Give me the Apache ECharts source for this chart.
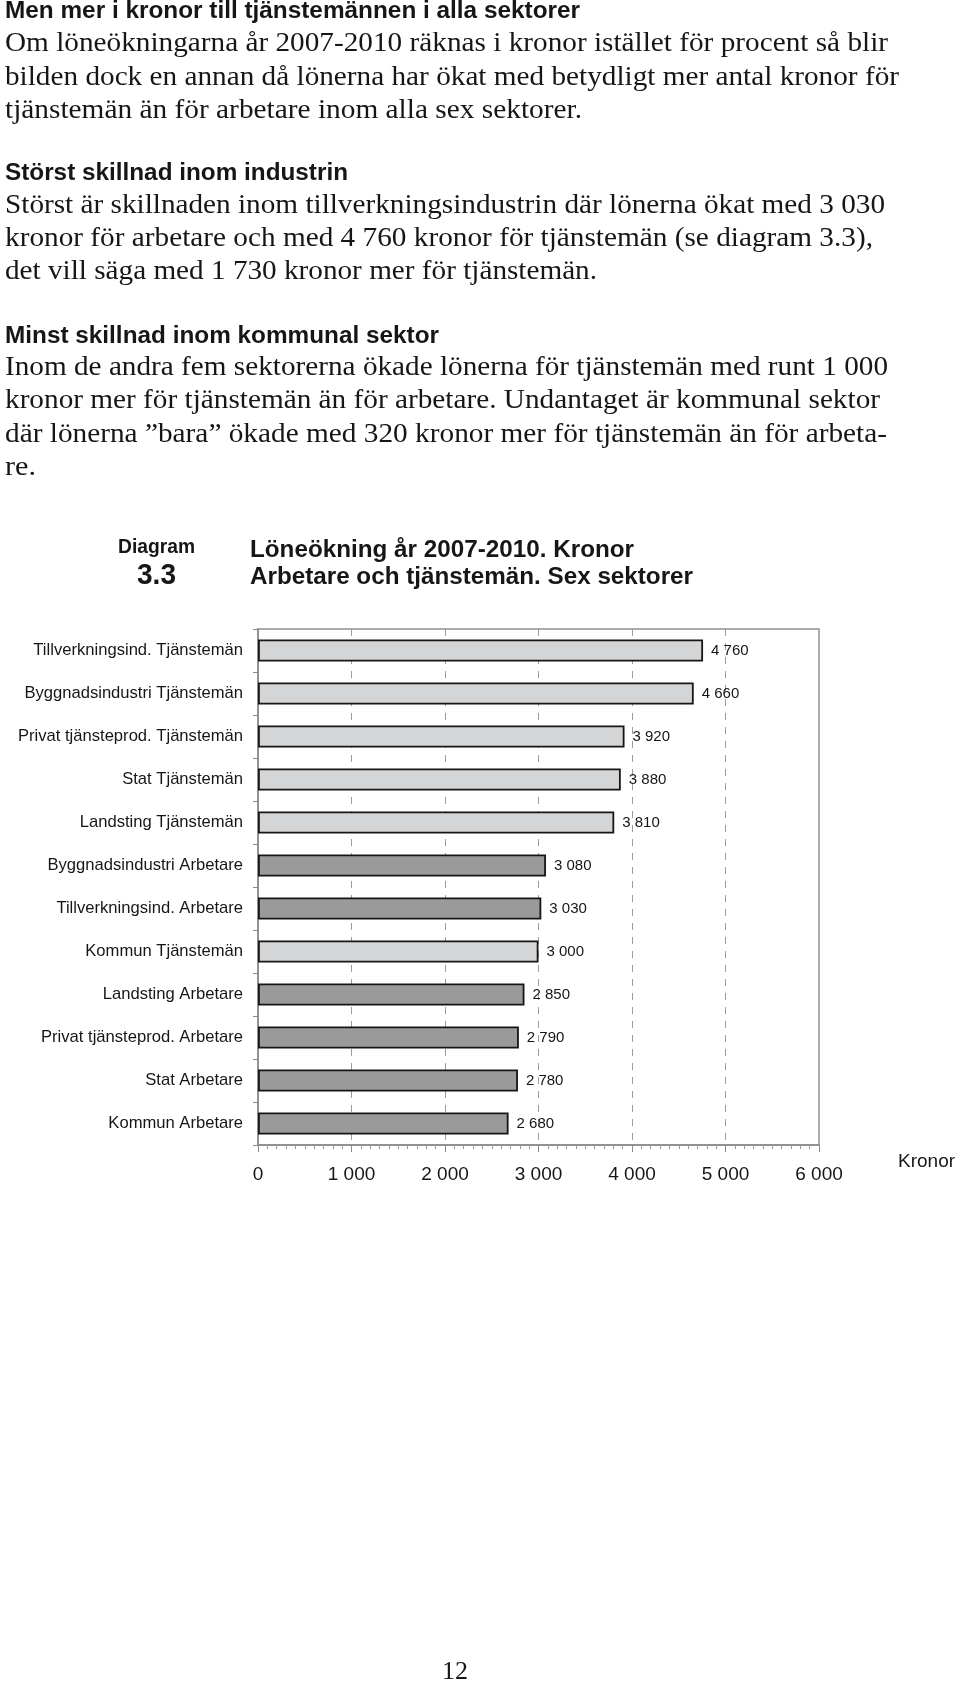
<!DOCTYPE html>
<html>
<head>
<meta charset="utf-8">
<script src="https://cdn.jsdelivr.net/npm/echarts/dist/echarts.min.js"></script>
<style>
html,body{margin:0;padding:0;background:#fff;}
#chart{width:960px;height:1685px;}
</style>
</head>
<body>
<div id="chart"></div>
<script>
// ---- Data ----
const categories = [
  'Tillverkningsind. Tjänstemän',
  'Byggnadsindustri Tjänstemän',
  'Privat tjänsteprod. Tjänstemän',
  'Stat Tjänstemän',
  'Landsting Tjänstemän',
  'Byggnadsindustri Arbetare',
  'Tillverkningsind. Arbetare',
  'Kommun Tjänstemän',
  'Landsting Arbetare',
  'Privat tjänsteprod. Arbetare',
  'Stat Arbetare',
  'Kommun Arbetare'
];
const values = [4760, 4660, 3920, 3880, 3810, 3080, 3030, 3000, 2850, 2790, 2780, 2680];
const xTickValues = [0, 1000, 2000, 3000, 4000, 5000, 6000];
const axisUnit = 'Kronor';

const headingMain = 'Men mer i kronor till tjänstemännen i alla sektorer';
const para1 = [
  'Om löneökningarna år 2007-2010 räknas i kronor istället för procent så blir',
  'bilden dock en annan då lönerna har ökat med betydligt mer antal kronor för',
  'tjänstemän än för arbetare inom alla sex sektorer.'
];
const heading2 = 'Störst skillnad inom industrin';
const para2 = [
  'Störst är skillnaden inom tillverkningsindustrin där lönerna ökat med 3 030',
  'kronor för arbetare och med 4 760 kronor för tjänstemän (se diagram 3.3),',
  'det vill säga med 1 730 kronor mer för tjänstemän.'
];
const heading3 = 'Minst skillnad inom kommunal sektor';
const para3 = [
  'Inom de andra fem sektorerna ökade lönerna för tjänstemän med runt 1 000',
  'kronor mer för tjänstemän än för arbetare. Undantaget är kommunal sektor',
  'där lönerna ”bara” ökade med 320 kronor mer för tjänstemän än för arbeta-',
  're.'
];
const diagramLabel = 'Diagram';
const diagramNumber = '3.3';
const titleLines = ['Löneökning år 2007-2010. Kronor', 'Arbetare och tjänstemän. Sex sektorer'];
const pageNumber = '12';

// ---- Helpers ----
const SANS = '"Liberation Sans", Arial, Helvetica, sans-serif';
const SERIF = '"Liberation Serif", "Times New Roman", serif';
const mctx = document.createElement('canvas').getContext('2d');
function measure(text, size, family, weight) {
  mctx.font = (weight || 'normal') + ' ' + size + 'px ' + family;
  return mctx.measureText(text).width;
}
function txt(text, x, y, size, family, weight, targetW, align) {
  const w = measure(text, size, family, weight);
  const sx = targetW ? targetW / w : 1;
  return {
    type: 'text', x: x, y: y, scaleX: sx, scaleY: 1,
    style: {
      text: text, fontSize: size, fontFamily: family, fontWeight: weight || 'normal',
      fill: '#161616', verticalAlign: 'middle', align: align || 'left'
    }
  };
}
function fmt(v) { return String(v).replace(/\B(?=(\d{3})+(?!\d))/g, ' '); }

const LIGHT = '#d4d5d6';
const DARK = '#9a9a9a';

// ---- Text layout ----
const graphics = [];
const LX = 5;
const BODY = 27;
const HEAD = 23;
graphics.push(txt(headingMain, LX, 12, HEAD, SANS, 'bold', 575));
const p1W = [883, 894, 577];
const p1Y = [44, 78, 111];
para1.forEach((t, i) => graphics.push(txt(t, LX, p1Y[i], BODY, SERIF, 'normal', p1W[i])));
graphics.push(txt(heading2, LX, 174, HEAD, SANS, 'bold', 343));
const p2W = [880, 868, 592];
const p2Y = [206, 239, 272];
para2.forEach((t, i) => graphics.push(txt(t, LX, p2Y[i], BODY, SERIF, 'normal', p2W[i])));
graphics.push(txt(heading3, LX, 337, HEAD, SANS, 'bold', 434));
const p3W = [883, 875, 882, 31];
const p3Y = [368, 401, 435, 468];
para3.forEach((t, i) => graphics.push(txt(t, LX, p3Y[i], BODY, SERIF, 'normal', p3W[i])));

graphics.push(txt(diagramLabel, 118, 547, 20, SANS, 'bold', 77));
graphics.push(txt(diagramNumber, 137, 576, 30, SANS, 'bold', 39));
graphics.push(txt(titleLines[0], 250, 551, 23, SANS, 'bold', 384));
graphics.push(txt(titleLines[1], 250, 578, 23, SANS, 'bold', 443));

graphics.push(txt(axisUnit, 898, 1162, 19, SANS, 'normal', null));
graphics.push(txt(pageNumber, 455, 1672, 26, SERIF, 'normal', null, 'center'));

// ---- Chart ----
const chart = echarts.init(document.getElementById('chart'), null, { renderer: 'canvas' });
chart.setOption({
  animation: false,
  backgroundColor: '#ffffff',
  grid: {
    left: 258, top: 629, width: 561, height: 516,
    show: true, borderColor: '#8e8e8e', borderWidth: 1.5, backgroundColor: 'transparent'
  },
  xAxis: {
    type: 'value', min: xTickValues[0], max: xTickValues[xTickValues.length - 1], interval: 1000,
    axisLine: { show: true, lineStyle: { color: '#8a8a8a', width: 1.5 } },
    axisTick: { show: true, length: 7, lineStyle: { color: '#8a8a8a', width: 1 } },
    minorTick: { show: true, splitNumber: 10, length: 4, lineStyle: { color: '#9a9a9a', width: 1 } },
    axisLabel: {
      margin: 20, fontSize: 19, fontFamily: SANS, color: '#161616',
      formatter: v => fmt(v)
    },
    splitLine: {
      show: true, showMinLine: false, showMaxLine: false,
      lineStyle: { color: '#9c9c9c', width: 1, type: [7, 7] }
    }
  },
  yAxis: {
    type: 'category', data: categories, inverse: true,
    axisLine: { show: true, lineStyle: { color: '#8a8a8a', width: 1.5 } },
    axisTick: { show: true, length: 5, alignWithLabel: false, lineStyle: { color: '#8a8a8a', width: 1 } },
    axisLabel: { margin: 15, fontSize: 16.6, fontFamily: SANS, color: '#161616' },
    splitLine: { show: false }
  },
  series: [{
    type: 'bar',
    barWidth: 22,
    data: values.map((v, i) => ({
      value: v,
      itemStyle: { color: categories[i].endsWith('Tjänstemän') ? LIGHT : DARK }
    })),
    itemStyle: { borderColor: '#161616', borderWidth: 1.8 },
    label: {
      show: true, position: 'right', distance: 8,
      fontSize: 15, fontFamily: SANS, color: '#161616',
      formatter: p => fmt(p.value)
    }
  }],
  graphic: graphics
});
</script>
</body>
</html>
